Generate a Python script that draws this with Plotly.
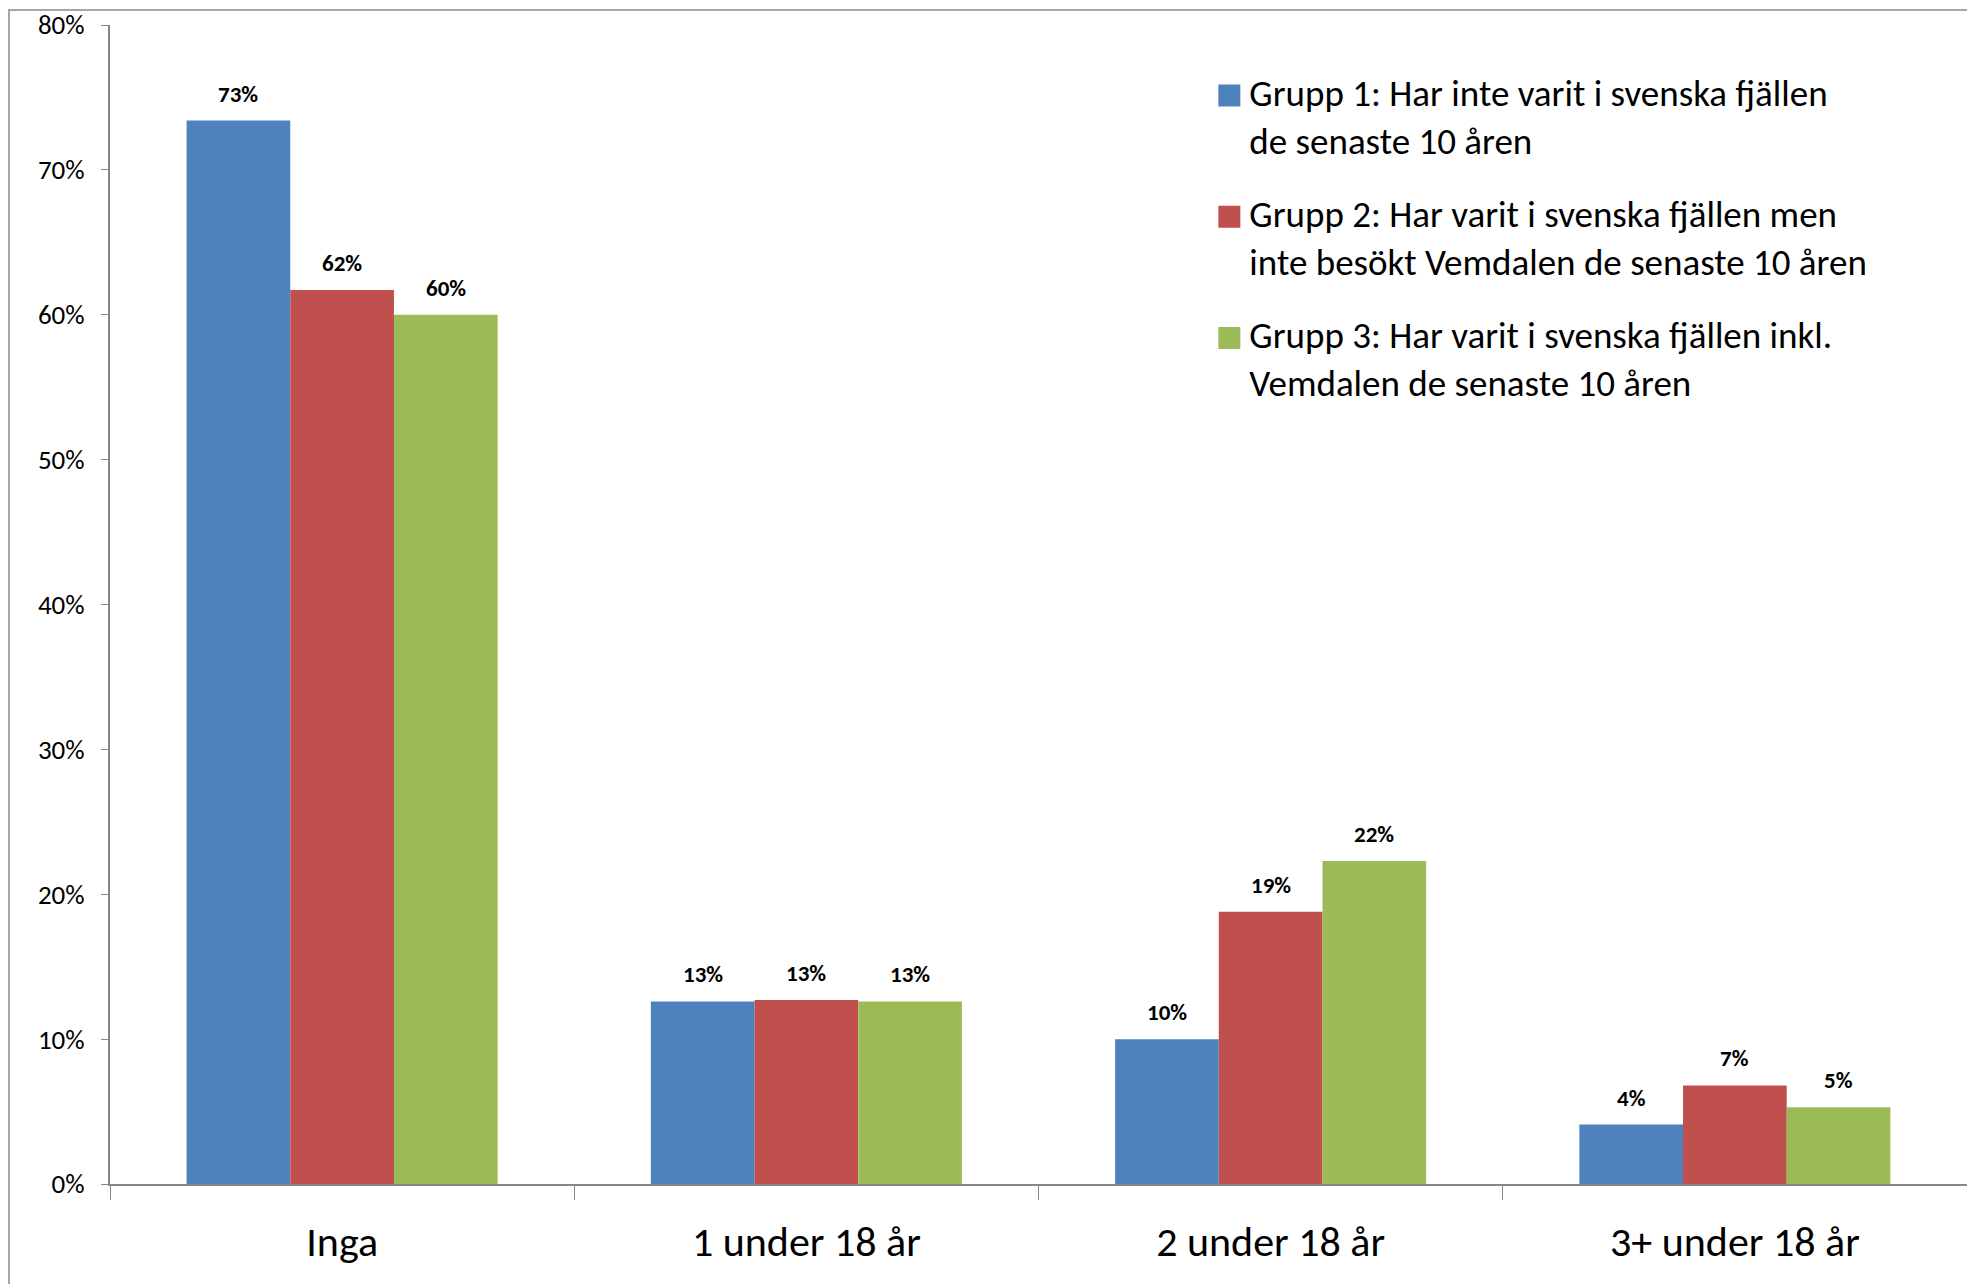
import plotly.graph_objects as go

categories = ["Inga", "1 under 18 år", "2 under 18 år", "3+ under 18 år"]
series_names = [
    "Grupp 1: Har inte varit i svenska fjällen<br>de senaste 10 åren",
    "Grupp 2: Har varit i svenska fjällen men<br>inte besökt Vemdalen de senaste 10 åren",
    "Grupp 3: Har varit i svenska fjällen inkl.<br>Vemdalen de senaste 10 åren",
]
grupp1 = [0.734, 0.126, 0.100, 0.041]
grupp2 = [0.617, 0.127, 0.188, 0.068]
grupp3 = [0.600, 0.126, 0.223, 0.053]
y_tick_vals = [0, 0.1, 0.2, 0.3, 0.4, 0.5, 0.6, 0.7, 0.8]
y_tick_text = ["0%", "10%", "20%", "30%", "40%", "50%", "60%", "70%", "80%"]

colors = ["#4F81BD", "#C0504D", "#9BBB59"]
FONT = "Calibri, Carlito, Lato, sans-serif"

W, H = 1967, 1276
L, R, T, B = 102, 8, 17, 100
plot_w = W - L - R
plot_h = H - T - B
bargap = 0.33
bar_px = plot_w / len(categories) * (1 - bargap) / 3

fig = go.Figure()
all_series = [grupp1, grupp2, grupp3]
for i, (name, vals) in enumerate(zip(series_names, all_series)):
    fig.add_trace(go.Bar(
        x=categories, y=vals, name=name,
        marker=dict(color=colors[i], line=dict(width=0)),
        legendgroup=f"g{i}",
    ))
    for c, v in zip(categories, vals):
        fig.add_annotation(
            x=c, y=v, xref="x", yref="y",
            text=f"<b>{round(v*100):.0f}%</b>",
            showarrow=False, xshift=(i - 1) * bar_px, yshift=11,
            yanchor="bottom", font=dict(family=FONT, size=23, color="black"),
        )

fig.update_layout(
    width=W, height=H,
    margin=dict(l=L, r=R, t=T, b=B, pad=0, autoexpand=False),
    barmode="group", bargap=bargap, bargroupgap=0,
    plot_bgcolor="white", paper_bgcolor="white",
    font=dict(family=FONT, color="black"),
    showlegend=True,
    legend=dict(
        x=0.592, y=0.969, xanchor="left", yanchor="top",
        font=dict(family=FONT, size=37, color="black"),
        traceorder="grouped", tracegroupgap=22,
        bgcolor="rgba(0,0,0,0)",
    ),
    xaxis=dict(
        type="category", showline=True, linecolor="#868686", linewidth=2,
        ticks="outside", tickson="boundaries", ticklen=14, tickcolor="#868686",
        tickwidth=1, showgrid=False, tickfont=dict(family=FONT, size=42, color="black"),
        ticklabelstandoff=20, automargin=False,
    ),
    yaxis=dict(
        range=[0, 0.8], tickvals=y_tick_vals, ticktext=y_tick_text,
        showline=True, linecolor="#868686", linewidth=2,
        ticks="outside", ticklen=7, tickcolor="#868686", tickwidth=1,
        showgrid=False, zeroline=False,
        tickfont=dict(family=FONT, size=27, color="black"),
        ticklabelstandoff=11, automargin=False,
    ),
    shapes=[dict(
        type="rect", xref="paper", yref="paper",
        x0=(1 - L) / plot_w, x1=(1965 - L) / plot_w,
        y0=-(1300 - (H - B)) / plot_h, y1=1 + (T - 2) / plot_h,
        line=dict(color="#A6A6A6", width=2), fillcolor="rgba(0,0,0,0)", layer="below",
    )],
)

# enlarge the legend colour squares and align them with each entry's first line
post = (
    "document.querySelectorAll('.legend .legendpoints path')"
    ".forEach(function(p){p.setAttribute('d','M11,-9H-11V-31H11Z');});"
)
fig.write_html("out.html", post_script=post)
